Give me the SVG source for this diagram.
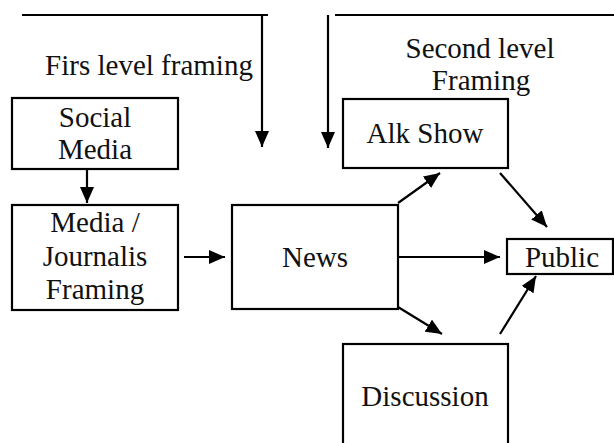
<svg xmlns="http://www.w3.org/2000/svg" width="614" height="443" viewBox="0 0 614 443">
<style>
.box{fill:#fff;stroke:#000;stroke-width:2.2}
.ln{stroke:#000;stroke-width:2.2;fill:none}
.t{font-family:"Liberation Serif","Times New Roman",serif;font-size:29px;fill:#111;text-anchor:middle}
</style>
<defs>
<marker id="ah" markerUnits="userSpaceOnUse" markerWidth="16" markerHeight="14" refX="16" refY="7" orient="auto">
<path d="M0,0 L16,7 L0,14 z" fill="#000"/>
</marker>
</defs>
<rect width="614" height="443" fill="#fff"/>
<g id="connectors">
<line class="ln" x1="22" y1="15" x2="268" y2="15"/>
<line class="ln" x1="262" y1="15" x2="262" y2="147" marker-end="url(#ah)"/>
<line class="ln" x1="335" y1="15" x2="614" y2="15"/>
<line class="ln" x1="328" y1="15" x2="328" y2="148" marker-end="url(#ah)"/>
<line class="ln" x1="87" y1="169" x2="87" y2="203" marker-end="url(#ah)"/>
<line class="ln" x1="184" y1="257" x2="225" y2="257" marker-end="url(#ah)"/>
<line class="ln" x1="398" y1="257" x2="500" y2="257" marker-end="url(#ah)"/>
<line class="ln" x1="398" y1="203" x2="440" y2="173" marker-end="url(#ah)"/>
<line class="ln" x1="500" y1="173" x2="547" y2="227" marker-end="url(#ah)"/>
<line class="ln" x1="398" y1="307" x2="442" y2="334" marker-end="url(#ah)"/>
<line class="ln" x1="500" y1="334" x2="536" y2="276" marker-end="url(#ah)"/>
</g>
<g id="label-first">
<text class="t" x="149" y="75">Firs level framing</text>
</g>
<g id="label-second">
<text class="t" x="480" y="58">Second level</text>
<text class="t" x="481" y="90">Framing</text>
</g>
<g id="social-media">
<rect class="box" x="12" y="98" width="166" height="71"/>
<text class="t" x="95" y="127">Social</text>
<text class="t" x="95" y="159">Media</text>
</g>
<g id="media-journalis">
<rect class="box" x="12" y="205" width="166" height="105"/>
<text class="t" x="95" y="232">Media /</text>
<text class="t" x="95" y="266">Journalis</text>
<text class="t" x="95" y="299">Framing</text>
</g>
<g id="news">
<rect class="box" x="232" y="205" width="166" height="104"/>
<text class="t" x="315" y="267">News</text>
</g>
<g id="alk-show">
<rect class="box" x="343" y="99" width="165" height="69"/>
<text class="t" x="425" y="143">Alk Show</text>
</g>
<g id="public">
<rect class="box" x="507" y="239" width="106" height="35"/>
<text class="t" x="562" y="267">Public</text>
</g>
<g id="discussion">
<rect class="box" x="343" y="344" width="165" height="104"/>
<text class="t" x="425" y="406">Discussion</text>
</g>
</svg>
